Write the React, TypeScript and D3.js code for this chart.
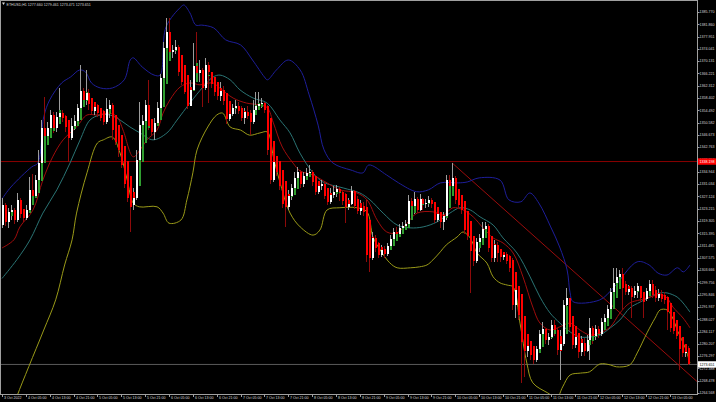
import * as d3 from 'd3';
import * as React from 'react';

const symbol = 'ETHUSD,H1';
const lastQuote = ['1277.660', '1279.461', '1273.471', '1273.651'];

// hourly bars, 3 Oct 21:00 .. 13 Oct 11:00 (open of each bar = previous close)
const firstOpen = 1318.0;
const closes = [
  1324.4, 1319.0, 1322.2, 1322.8, 1319.6, 1326.0, 1321.5, 1320.3, 1322.8, 1329.2,
  1327.3, 1332.3, 1337.7, 1348.9, 1346.3, 1348.9, 1353.0, 1348.9, 1352.4, 1353.6,
  1352.1, 1349.2, 1345.7, 1349.5, 1351.1, 1355.3, 1360.7, 1357.8, 1360.0, 1356.5,
  1354.3, 1355.6, 1353.6, 1352.1, 1350.8, 1354.9, 1356.2, 1348.2, 1344.5, 1341.9,
  1337.1, 1331.0, 1326.7, 1324.4, 1326.7, 1338.7, 1349.8, 1351.1, 1356.2, 1349.5,
  1347.6, 1350.4, 1355.3, 1364.8, 1374.4, 1379.5, 1373.1, 1373.7, 1374.7, 1366.7,
  1363.6, 1360.4, 1355.9, 1361.0, 1368.6, 1366.3, 1367.3, 1361.7, 1368.9, 1366.7,
  1362.9, 1360.4, 1359.1, 1360.7, 1357.5, 1351.7, 1353.3, 1355.3, 1355.9, 1354.3,
  1352.1, 1354.0, 1352.7, 1350.8, 1354.6, 1355.9, 1356.5, 1356.8, 1354.6, 1341.9,
  1332.3, 1338.1, 1334.9, 1330.4, 1324.7, 1323.8, 1327.3, 1329.8, 1332.9, 1334.9,
  1331.0, 1333.6, 1334.5, 1334.9, 1331.7, 1328.6, 1330.4, 1331.0, 1327.3, 1325.4,
  1327.6, 1328.6, 1329.5, 1328.6, 1325.7, 1323.8, 1324.7, 1328.9, 1324.1, 1322.5,
  1323.5, 1322.2, 1308.5, 1307.6, 1313.9, 1310.7, 1308.5, 1310.1, 1308.8, 1311.4,
  1313.6, 1315.8, 1315.1, 1317.1, 1317.7, 1318.3, 1325.7, 1324.1, 1326.3, 1322.8,
  1326.3, 1324.7, 1325.0, 1326.0, 1324.7, 1319.6, 1321.5, 1319.0, 1320.9, 1332.3,
  1330.4, 1332.9, 1326.0, 1324.4, 1322.8, 1316.4, 1314.5, 1310.4, 1306.6, 1312.7,
  1313.9, 1316.8, 1317.7, 1310.7, 1307.6, 1311.7, 1309.1, 1307.9, 1308.5, 1306.6,
  1304.4, 1292.6, 1297.4, 1289.4, 1280.8, 1278.0, 1279.6, 1276.7, 1275.1, 1278.6,
  1283.3, 1284.9, 1281.4, 1282.4, 1286.2, 1284.6, 1278.3, 1280.1, 1292.6, 1294.9,
  1285.6, 1279.7, 1282.4, 1277.6, 1280.5, 1278.0, 1281.4, 1285.3, 1282.7, 1284.9,
  1283.3, 1287.2, 1288.4, 1291.3, 1296.8, 1299.6, 1301.5, 1302.4, 1298.0, 1296.8,
  1297.7, 1295.8, 1297.1, 1298.6, 1294.8, 1294.5, 1297.1, 1299.2, 1295.8, 1294.8,
  1296.1, 1294.5, 1294.2, 1290.4, 1285.3, 1284.3, 1282.7, 1278.6, 1277.3, 1277.66,
  1273.651,
];
const highs = [
  1326.7, 1325.0, 1323.5, 1324.4, 1323.5, 1328.2, 1326.7, 1322.8, 1324.4, 1333.3,
  1334.2, 1333.9, 1341.9, 1351.4, 1358.8, 1350.8, 1354.6, 1354.0, 1354.0, 1361.7,
  1354.6, 1353.0, 1350.8, 1352.1, 1353.0, 1356.5, 1368.9, 1361.7, 1367.3, 1361.3,
  1358.4, 1357.2, 1356.5, 1355.3, 1354.6, 1358.4, 1357.8, 1356.8, 1351.4, 1346.3,
  1343.5, 1337.7, 1332.3, 1327.6, 1329.8, 1341.9, 1357.2, 1353.0, 1357.8, 1364.2,
  1351.4, 1352.1, 1357.2, 1366.0, 1376.3, 1383.9, 1383.9, 1375.3, 1376.9, 1375.3,
  1368.9, 1365.7, 1361.7, 1364.2, 1375.9, 1379.5, 1370.5, 1367.9, 1371.2, 1369.9,
  1366.7, 1364.8, 1362.6, 1363.6, 1362.3, 1359.4, 1357.2, 1356.5, 1357.8, 1357.2,
  1355.9, 1355.3, 1355.9, 1354.6, 1357.8, 1360.4, 1360.4, 1358.4, 1357.2, 1356.2,
  1343.5, 1340.3, 1338.7, 1336.2, 1334.9, 1328.6, 1329.2, 1331.0, 1334.9, 1336.6,
  1335.5, 1334.9, 1336.2, 1337.1, 1335.5, 1333.6, 1331.7, 1332.3, 1331.7, 1329.2,
  1329.8, 1330.4, 1330.7, 1330.1, 1329.2, 1328.2, 1326.7, 1330.4, 1329.2, 1327.3,
  1326.0, 1325.4, 1326.0, 1314.8, 1315.8, 1314.8, 1312.7, 1311.7, 1311.4, 1312.3,
  1314.8, 1317.1, 1317.4, 1318.3, 1319.0, 1319.6, 1327.6, 1326.7, 1328.6, 1327.0,
  1327.9, 1326.7, 1326.3, 1327.3, 1326.7, 1325.4, 1322.8, 1322.2, 1322.2, 1333.9,
  1333.9, 1337.7, 1333.6, 1327.6, 1326.0, 1323.5, 1319.6, 1317.1, 1311.4, 1313.9,
  1315.1, 1319.0, 1319.0, 1318.3, 1312.9, 1313.3, 1312.7, 1310.1, 1309.5, 1309.5,
  1308.5, 1307.6, 1299.2, 1298.6, 1291.0, 1283.0, 1281.4, 1280.5, 1278.9, 1279.6,
  1284.6, 1287.2, 1284.6, 1283.6, 1287.8, 1287.8, 1285.3, 1284.6, 1294.2, 1298.0,
  1294.2, 1287.2, 1284.6, 1283.6, 1282.7, 1282.1, 1283.0, 1288.4, 1285.9, 1286.2,
  1285.9, 1288.4, 1289.7, 1292.6, 1298.0, 1304.4, 1304.4, 1303.7, 1304.4, 1300.2,
  1299.0, 1298.6, 1298.6, 1299.6, 1298.0, 1296.8, 1298.0, 1300.5, 1300.5, 1298.6,
  1297.7, 1297.4, 1296.8, 1295.5, 1290.4, 1288.4, 1285.9, 1283.0, 1280.8, 1279.6,
  1279.461,
];
const lows = [
  1317.1, 1317.7, 1317.1, 1319.6, 1318.3, 1319.0, 1320.3, 1319.0, 1319.6, 1322.2,
  1324.4, 1326.7, 1330.7, 1336.2, 1341.9, 1345.1, 1345.7, 1347.2, 1347.6, 1350.8,
  1350.8, 1347.6, 1338.1, 1345.1, 1348.2, 1350.1, 1354.6, 1356.5, 1356.2, 1354.6,
  1353.3, 1353.0, 1352.4, 1351.1, 1349.8, 1350.1, 1352.1, 1345.1, 1343.5, 1339.7,
  1336.2, 1329.8, 1325.4, 1315.8, 1322.8, 1326.0, 1337.1, 1346.0, 1350.8, 1348.2,
  1346.3, 1345.1, 1349.8, 1354.0, 1363.6, 1373.7, 1370.5, 1371.2, 1372.4, 1365.4,
  1362.6, 1359.7, 1354.9, 1356.5, 1361.7, 1364.2, 1363.6, 1355.6, 1361.0, 1356.8,
  1361.7, 1359.1, 1357.8, 1357.5, 1356.2, 1350.1, 1351.1, 1352.7, 1353.3, 1353.3,
  1351.1, 1350.1, 1351.7, 1346.6, 1350.1, 1354.0, 1354.6, 1355.3, 1353.6, 1340.3,
  1331.0, 1331.7, 1333.6, 1329.2, 1323.5, 1317.4, 1322.8, 1326.0, 1328.6, 1329.8,
  1329.8, 1330.1, 1332.3, 1333.3, 1330.4, 1327.6, 1327.9, 1329.2, 1326.3, 1324.4,
  1324.7, 1326.7, 1327.0, 1325.7, 1324.4, 1318.6, 1322.8, 1324.4, 1323.1, 1321.5,
  1321.2, 1320.9, 1306.3, 1303.1, 1306.9, 1309.5, 1307.6, 1307.9, 1307.6, 1308.2,
  1310.4, 1312.0, 1313.9, 1314.2, 1315.8, 1316.4, 1317.4, 1320.4, 1321.5, 1321.8,
  1322.5, 1322.8, 1323.5, 1323.8, 1323.5, 1318.6, 1319.0, 1317.1, 1316.4, 1319.6,
  1327.3, 1329.2, 1324.7, 1323.1, 1321.5, 1315.1, 1313.3, 1296.4, 1305.0, 1306.0,
  1309.5, 1313.3, 1313.9, 1309.5, 1306.3, 1306.3, 1306.3, 1306.3, 1306.9, 1305.6,
  1303.1, 1291.0, 1288.4, 1287.8, 1267.8, 1269.7, 1276.0, 1275.1, 1273.8, 1274.5,
  1278.3, 1279.2, 1280.1, 1279.7, 1281.7, 1282.7, 1276.7, 1268.7, 1279.6, 1284.0,
  1284.3, 1278.6, 1278.9, 1275.7, 1276.4, 1276.4, 1277.7, 1275.1, 1280.1, 1281.4,
  1282.1, 1282.7, 1284.6, 1287.8, 1291.0, 1293.6, 1296.8, 1299.2, 1291.0, 1295.8,
  1295.8, 1288.4, 1294.8, 1294.8, 1293.6, 1288.4, 1293.9, 1296.1, 1294.8, 1293.6,
  1293.9, 1293.6, 1292.9, 1284.6, 1284.0, 1283.3, 1281.7, 1271.9, 1276.0, 1276.0,
  1273.471,
];

// one label every 8 bars
const timeLabels = [
  '3 Oct 2022', '4 Oct 05:00', '4 Oct 13:00', '4 Oct 21:00', '5 Oct 05:00',
  '5 Oct 13:00', '5 Oct 21:00', '6 Oct 05:00', '6 Oct 13:00', '6 Oct 21:00',
  '7 Oct 05:00', '7 Oct 13:00', '7 Oct 21:00', '8 Oct 05:00', '8 Oct 13:00',
  '8 Oct 21:00', '9 Oct 05:00', '9 Oct 13:00', '9 Oct 21:00', '10 Oct 05:00',
  '10 Oct 13:00', '10 Oct 21:00', '11 Oct 05:00', '11 Oct 13:00', '11 Oct 21:00',
  '12 Oct 05:00', '12 Oct 13:00', '12 Oct 21:00', '13 Oct 05:00',
];
const priceTicks = [
  1264.568, 1268.478, 1272.388, 1276.297, 1280.207, 1284.117, 1288.027, 1291.937,
  1295.846, 1299.756, 1303.666, 1307.575, 1311.485, 1315.395, 1319.305, 1323.215,
  1327.124, 1331.034, 1334.944, 1338.853, 1342.763, 1346.673, 1350.582, 1354.492,
  1358.402, 1362.312, 1366.221, 1370.131, 1374.041, 1377.951, 1381.860, 1385.770,
];

// indicator lines: [bar, price]
const upperBand: [number, number][] = [
  [0, 1326.3], [3, 1330.1], [10, 1336.5], [12, 1337.7], [14, 1352.4], [16, 1357.8],
  [20, 1363.2], [23, 1365.1], [26, 1367.3], [28, 1366.7], [30, 1363.2], [33, 1361.6],
  [37, 1361.6], [41, 1364.2], [43, 1370.5], [44, 1371.2], [47, 1368.3], [51, 1365.7],
  [53, 1365.7], [55, 1381.0], [60, 1387.4], [61, 1388.0], [63, 1385.5], [65, 1381.6],
  [67, 1381.6], [71, 1380.7], [75, 1376.9], [80, 1375.3], [84, 1370.5], [88, 1365.1],
  [89, 1364.2], [92, 1367.3], [96, 1370.5], [100, 1367.3], [103, 1359.4], [106, 1349.8],
  [108, 1341.9], [111, 1337.7], [117, 1335.5], [121, 1334.6], [123, 1337.1], [129, 1333.9],
  [133, 1331.4], [139, 1328.6], [143, 1329.2], [147, 1331.4], [153, 1331.4], [156, 1331.7],
  [160, 1333.0], [167, 1332.3], [170, 1326.0], [174, 1325.4], [177, 1328.2], [180, 1325.0],
  [184, 1317.4], [187, 1311.0], [189.5, 1303.7], [190.5, 1296.4], [191.5, 1293.6],
  [200.5, 1294.2], [205, 1298.0], [213, 1306.3], [217, 1305.3], [220, 1302.7],
  [223, 1302.1], [226.5, 1304.4], [228.5, 1303.1], [230.7, 1305.3],
];
const lowerBand: [number, number][] = [
  [0, 1252.0], [3, 1258.0], [5, 1263.5], [9, 1273.0], [14, 1284.6], [18, 1294.2],
  [21, 1305.3], [23.5, 1313.3], [25, 1321.8], [28.5, 1334.6], [32, 1344.1], [34, 1345.1],
  [37, 1346.0], [39.6, 1340.9], [42, 1332.3], [44, 1325.0], [46, 1323.8], [52, 1323.8],
  [54, 1321.8], [56, 1318.6], [60, 1319.6], [62, 1326.0], [64, 1334.6], [65.4, 1341.9],
  [69, 1349.2], [72, 1353.0], [74, 1353.6], [76.5, 1349.2], [80, 1348.2], [83, 1346.6],
  [86.5, 1347.3], [89, 1347.6], [91, 1339.7], [93, 1332.3], [96.6, 1321.8], [100, 1317.4],
  [104.3, 1314.8], [106.6, 1316.4], [109, 1322.8], [113.3, 1323.5], [119, 1323.5],
  [122.4, 1322.2], [124.4, 1314.2], [126.8, 1310.1], [130, 1306.0], [132.5, 1304.4],
  [137, 1304.4], [140, 1304.7], [142.5, 1305.3], [144.5, 1306.9], [147, 1309.5],
  [149, 1311.7], [152.6, 1314.2], [154.6, 1315.8], [157, 1313.9], [159.3, 1309.1],
  [162.6, 1305.9], [164.7, 1301.5], [167, 1299.6], [169.4, 1298.9], [171.4, 1298.3],
  [173.7, 1286.8], [176, 1274.1], [178, 1267.8], [183, 1264.6], [186, 1263.0],
  [188, 1266.5], [190.5, 1270.3], [194, 1270.9], [197, 1271.3], [200.5, 1273.8],
  [204, 1273.5], [206, 1272.9], [210.5, 1273.5], [213, 1277.3], [216.3, 1283.7],
  [219, 1288.4], [220.7, 1291.0], [223, 1291.0], [224.7, 1288.8], [226.7, 1284.0],
  [229, 1279.2], [230.7, 1274.1],
];
const fastMa: [number, number][] = [
  [0, 1310.7], [4, 1313.3], [6, 1317.4], [10.4, 1322.8], [13.7, 1332.3], [17, 1339.7],
  [20.5, 1345.1], [25, 1349.2], [28.5, 1353.0], [32, 1353.0], [36, 1353.6], [38.6, 1352.4],
  [40.6, 1348.2], [44, 1339.7], [46.3, 1341.9], [48.6, 1345.1], [52, 1348.2], [54, 1353.6],
  [56.3, 1357.8], [59.7, 1361.9], [63, 1363.2], [66.4, 1362.6], [70.8, 1363.2], [73, 1361.6],
  [77.5, 1358.4], [82, 1356.8], [86.5, 1356.2], [89, 1355.3], [91, 1350.5], [94, 1342.8],
  [97.6, 1337.7], [100, 1335.2], [104.3, 1333.9], [109, 1331.4], [113.3, 1329.2],
  [119, 1328.2], [122.4, 1326.0], [125.8, 1319.6], [129, 1315.8], [132.5, 1315.5],
  [135.8, 1318.6], [139.2, 1321.8], [144.5, 1322.2], [148, 1321.2], [151.2, 1323.5],
  [154.6, 1322.8], [158, 1320.6], [161.3, 1317.1], [164.7, 1313.9], [168, 1312.3],
  [171.4, 1309.1], [174.7, 1301.5], [178, 1291.9], [180.4, 1286.8], [183.8, 1284.6],
  [187, 1285.6], [190.5, 1286.8], [193.8, 1284.6], [197.2, 1283.0], [200.5, 1283.7],
  [204, 1285.6], [207.2, 1290.0], [210.5, 1293.2], [214, 1294.2], [217.3, 1295.1],
  [220.7, 1295.8], [223, 1294.8], [225, 1291.9], [228.4, 1288.4], [230.7, 1285.3],
];
const slowMa: [number, number][] = [
  [0, 1301.0], [5, 1307.0], [9.4, 1313.3], [13.7, 1321.8], [18.4, 1329.2], [22.8, 1337.7],
  [26.2, 1345.1], [29.5, 1351.4], [32.9, 1353.0], [36.2, 1353.0], [39.6, 1351.4],
  [42.9, 1349.2], [46.3, 1347.3], [50.6, 1345.1], [55.3, 1347.3], [58.7, 1351.4],
  [63, 1356.8], [67.4, 1361.9], [70.8, 1365.1], [73.1, 1365.7], [76.5, 1364.2],
  [79.8, 1361.0], [84.2, 1358.4], [88.9, 1356.8], [93.2, 1351.4], [96.6, 1347.3],
  [99.9, 1340.9], [104.3, 1334.6], [107.6, 1331.7], [114.4, 1329.8], [120, 1328.2],
  [123.4, 1326.0], [127.8, 1321.8], [132.5, 1318.0], [136.8, 1317.1], [141.2, 1317.4],
  [145.9, 1319.0], [150.2, 1321.8], [153.6, 1323.5], [157, 1322.8], [160.3, 1320.6],
  [164.7, 1318.0], [168, 1313.9], [172.7, 1309.1], [177.1, 1301.5], [180.4, 1295.1],
  [183.8, 1290.0], [187.1, 1286.8], [190.5, 1284.0], [193.8, 1282.4], [197.2, 1282.4],
  [200.5, 1283.0], [204, 1285.3], [207.2, 1287.8], [210.5, 1291.6], [214, 1293.5],
  [217.3, 1295.1], [220.7, 1296.4], [223, 1296.4], [226.4, 1295.1], [228.4, 1293.2],
  [230.7, 1290.3],
];

const levelPrice = 1338.198;
const trendLine: [number, number][] = [[151, 1337.7], [233.1, 1268.2]];

const W = 716;
const H = 402;
const plotRight = 697;
const plotBottom = 394;
const font = '"Liberation Sans", Arial, sans-serif';
const textColor = '#d8d8d8';

export default function App() {
  const x = d3.scaleLinear().domain([0, 224]).range([2, 670]);
  const y = d3
    .scaleLinear()
    .domain([priceTicks[0], priceTicks[priceTicks.length - 1]])
    .range([393, 12]);

  const bars = closes.map((c, i) => {
    const o = i === 0 ? firstOpen : closes[i - 1];
    return {
      i,
      o,
      c,
      h: Math.max(highs[i], o, c),
      l: Math.min(lows[i], o, c),
    };
  });

  // heiken ashi overlay
  const ha: { o: number; c: number }[] = [];
  bars.forEach((b, i) => {
    const hc = (b.o + b.h + b.l + b.c) / 4;
    const ho = i === 0 ? (b.o + b.c) / 2 : (ha[i - 1].o + ha[i - 1].c) / 2;
    ha.push({ o: ho, c: hc });
  });

  const line = d3
    .line<[number, number]>()
    .x((d) => x(d[0]))
    .y((d) => y(d[1]))
    .curve(d3.curveCatmullRom.alpha(0.5));

  const cx = (i: number) => Math.round(x(i));
  const lastY = y(closes[closes.length - 1]);

  return (
    <svg
      width={W}
      height={H}
      style={{ position: 'absolute', left: 0, top: 0, background: '#000' }}
      fontFamily={font}
    >
      <rect width={W} height={H} fill="#000" />
      <defs>
        <clipPath id="plot">
          <rect x={0} y={0} width={plotRight} height={plotBottom} />
        </clipPath>
      </defs>

      <g clipPath="url(#plot)">
        <line x1={0} x2={plotRight} y1={y(levelPrice)} y2={y(levelPrice)} stroke="#8a0000" />
        <line x1={0} x2={plotRight} y1={lastY} y2={lastY} stroke="#5a5a5a" />
        <line
          x1={x(trendLine[0][0])}
          y1={y(trendLine[0][1])}
          x2={x(trendLine[1][0])}
          y2={y(trendLine[1][1])}
          stroke="#9a0c0c"
        />

        <path d={line(upperBand) ?? ''} fill="none" stroke="#1e1e9a" />
        <path d={line(lowerBand) ?? ''} fill="none" stroke="#9a9a18" />
        <path d={line(slowMa) ?? ''} fill="none" stroke="#2a7474" />
        <path d={line(fastMa) ?? ''} fill="none" stroke="#a00c0c" />

        <g shapeRendering="crispEdges">
          {bars.map((b) => (
            <line
              key={'w' + b.i}
              x1={cx(b.i) + 0.5}
              x2={cx(b.i) + 0.5}
              y1={y(b.h)}
              y2={y(b.l)}
              stroke={b.c >= b.o ? '#9c9c9c' : '#8e0a0a'}
            />
          ))}
          {ha.map((d, i) => (
            <rect
              key={'h' + i}
              x={cx(i) - 0.5}
              width={2}
              y={y(Math.max(d.o, d.c))}
              height={Math.max(1, Math.abs(y(d.o) - y(d.c)))}
              fill={d.c >= d.o ? '#2f9e2f' : '#ff0000'}
            />
          ))}
          {bars.map((b) => (
            <rect
              key={'b' + b.i}
              x={cx(b.i) - 0.5}
              width={2}
              y={y(Math.max(b.o, b.c))}
              height={Math.max(1, Math.abs(y(b.o) - y(b.c)))}
              fill={b.c >= b.o ? '#ffffff' : '#ff0000'}
            />
          ))}
        </g>
      </g>

      {/* frame */}
      <g shapeRendering="crispEdges" stroke="#a0a0a0">
        <line x1={0.5} x2={0.5} y1={0} y2={plotBottom} />
        <line x1={0} x2={plotRight} y1={0.5} y2={0.5} />
        <line x1={plotRight + 0.5} x2={plotRight + 0.5} y1={0} y2={plotBottom + 1} />
        <line x1={0} x2={plotRight + 1} y1={plotBottom + 0.5} y2={plotBottom + 0.5} />
      </g>

      {/* title */}
      <path d="M2,2.5 L5,2.5 L3.5,5 Z" fill={textColor} />
      <text x={6.5} y={5.6} fontSize={3.6} fill={textColor}>
        {symbol + '  ' + lastQuote.join(' ')}
      </text>

      {/* price axis */}
      {priceTicks.map((p) => (
        <g key={p}>
          <line
            x1={plotRight}
            x2={plotRight + 2.5}
            y1={Math.round(y(p)) + 0.5}
            y2={Math.round(y(p)) + 0.5}
            stroke="#a0a0a0"
          />
          <text x={699.5} y={y(p) + 1.3} fontSize={3.6} fill={textColor}>
            {p.toFixed(3)}
          </text>
        </g>
      ))}
      <rect x={plotRight + 1} y={y(levelPrice) - 3.2} width={18} height={6.4} fill="#ff0000" />
      <text x={699.5} y={y(levelPrice) + 1.3} fontSize={3.6} fill="#ffffff">
        {levelPrice.toFixed(3)}
      </text>
      <rect x={plotRight + 1} y={lastY - 3.2} width={18} height={6.4} fill="#ffffff" />
      <text x={699.5} y={lastY + 1.3} fontSize={3.6} fill="#000000">
        {lastQuote[3]}
      </text>

      {/* time axis */}
      {timeLabels.map((t, k) => {
        const tx = Math.round(x(k * 8));
        return (
          <g key={t}>
            <line x1={tx + 0.5} x2={tx + 0.5} y1={plotBottom} y2={plotBottom + 3} stroke="#a0a0a0" />
            <text x={tx + 2} y={399.2} fontSize={3.6} fill={textColor}>
              {t}
            </text>
          </g>
        );
      })}
    </svg>
  );
}
